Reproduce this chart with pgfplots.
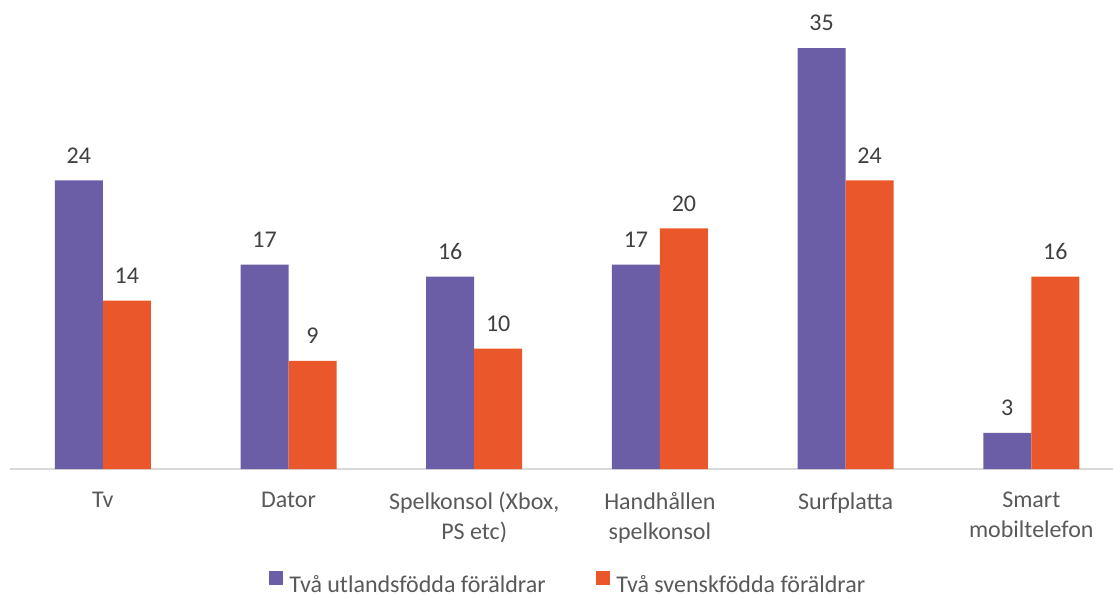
\documentclass[border=0pt]{standalone}
\usepackage{fontspec}
\setmainfont{Carlito}
\usepackage{pgfplots}
\pgfplotsset{compat=1.18}
\definecolor{cpurple}{HTML}{6B5EA6}
\definecolor{corange}{HTML}{E9572A}
\definecolor{ctext}{HTML}{595959}
\definecolor{clabel}{HTML}{404040}
\definecolor{cline}{HTML}{D9D9D9}
\begin{document}
\begin{tikzpicture}
\useasboundingbox (0,0) rectangle (834.75pt,445.5pt);
\begin{axis}[
  at={(7.5pt,93.75pt)}, anchor=south west,
  scale only axis, width=827.25pt, height=342.75pt,
  ybar=0pt, bar width=36pt,
  xmin=-0.5, xmax=5.44, ymin=0, ymax=38,
  hide y axis,
  axis x line*=bottom,
  x axis line style={draw=cline, line width=1.1pt},
  xtick=data, major tick length=0pt,
  /pgf/number format/assume math mode=true,
  xticklabels={Tv, Dator, {Spelkonsol (Xbox,\\PS etc)}, {Handhållen\\spelkonsol}, Surfplatta, {Smart\\mobiltelefon}},
  xticklabel style={align=center, font=\fontsize{18pt}{22.5pt}\selectfont, text=ctext, yshift=-14pt},
  nodes near coords,
  every node near coord/.append style={font=\fontsize{18pt}{20pt}\selectfont, text=clabel, inner sep=0pt, anchor=south, yshift=12.5pt},
  legend columns=2,
  legend style={draw=none, at={(0.508,-0.252)}, anchor=center, font=\fontsize{18pt}{20pt}\selectfont, text=ctext, nodes={inner xsep=4.5pt, inner ysep=2pt}, /tikz/every odd column/.append style={column sep=0pt}, /tikz/every even column/.append style={column sep=33.5pt}},
  legend image code/.code={\fill[#1] (0pt,-0.5pt) rectangle (10.5pt,10pt);},
]
\addplot[fill=cpurple, draw=none] coordinates {(0,24) (1,17) (2,16) (3,17) (4,35) (5,3)};
\addplot[fill=corange, draw=none] coordinates {(0,14) (1,9) (2,10) (3,20) (4,24) (5,16)};
\legend{Två utlandsfödda föräldrar, Två svenskfödda föräldrar}
\end{axis}
\end{tikzpicture}
\end{document}
